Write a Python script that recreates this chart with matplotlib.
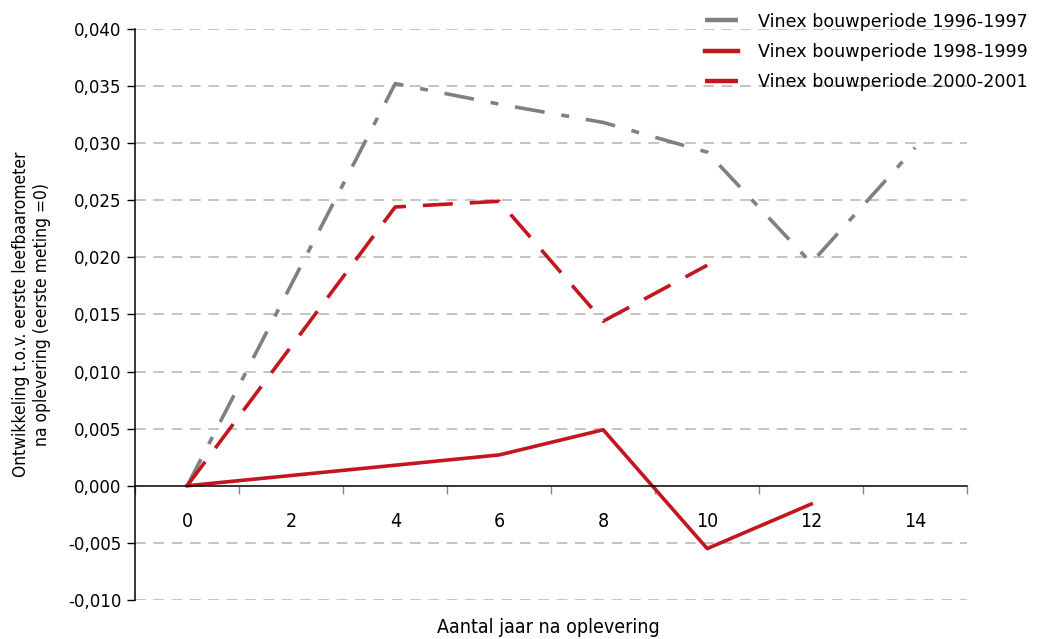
import matplotlib
matplotlib.use("Agg")
import matplotlib.pyplot as plt
from matplotlib import font_manager
from matplotlib.ticker import FuncFormatter, FixedLocator

# data
x_9697 = [0, 4, 6, 8, 10, 12, 14]
y_9697 = [0.0, 0.0352, 0.0334, 0.0318, 0.0292, 0.0195, 0.0296]

x_9899 = [0, 4, 6, 8, 10, 12]
y_9899 = [0.0, 0.0018, 0.0027, 0.0049, -0.0055, -0.0016]

x_0001 = [0, 4, 6, 8, 10]
y_0001 = [0.0, 0.0244, 0.0249, 0.0144, 0.0193]

labels = ["Vinex bouwperiode 1996-1997", "Vinex bouwperiode 1998-1999",
          "Vinex bouwperiode 2000-2001"]
x_labels = [0, 2, 4, 6, 8, 10, 12, 14]

grey = "#808080"
red = "#C3161F"

# condensed face for axis titles and x labels, if there is one
cond = None
for f in font_manager.fontManager.ttflist:
    if f.name == "DejaVu Sans" and "ondensed" in f.fname and "Bold" not in f.fname \
            and "Oblique" not in f.fname:
        cond = f.fname
        break
narrow = font_manager.FontProperties(fname=cond) if cond else \
    font_manager.FontProperties(family="DejaVu Sans")

fig = plt.figure(figsize=(10.4, 6.39), dpi=100)
ax = fig.add_axes([0.130, 0.061, 0.800, 0.894])

ax.plot(x_9697, y_9697, color=grey, lw=2.6, dashes=(8.3, 4.7, 2.2, 4.7),
        label=labels[0], dash_capstyle="butt")
ax.plot(x_9899, y_9899, color=red, lw=2.6, label=labels[1])
ax.plot(x_0001, y_0001, color=red, lw=2.6, dashes=(8.3, 4.7),
        label=labels[2], dash_capstyle="butt")

ax.set_xlim(-1, 15)
ax.set_ylim(-0.010, 0.040)

# y axis
yt = [i * 0.005 for i in range(-2, 9)]
ax.set_yticks(yt)
ax.yaxis.set_major_formatter(FuncFormatter(lambda v, p: f"{v:.3f}".replace(".", ",")))
ax.tick_params(axis="y", direction="out", length=6, width=1, labelsize=12,
               colors="black", pad=4)
for v in yt:
    if abs(v) > 1e-9:
        ax.axhline(v, color="#B4B4B4", lw=1.1, dashes=(7, 5), zorder=0)

# x axis at y = 0, tick marks between the category labels
ax.spines["bottom"].set_position(("data", 0))
ax.spines["top"].set_visible(False)
ax.spines["right"].set_visible(False)
ax.xaxis.set_major_locator(FixedLocator(list(range(-1, 16, 2))))
ax.xaxis.set_major_formatter(FuncFormatter(lambda v, p: ""))
ax.xaxis.set_minor_locator(FixedLocator(x_labels))
ax.set_xticklabels([str(v) for v in x_labels], minor=True)
for t in ax.get_xticklabels(minor=True):
    t.set_fontproperties(narrow)
    t.set_fontsize(14)
ax.tick_params(axis="x", which="major", direction="out", length=6, width=1, colors="#888888")
ax.tick_params(axis="x", which="minor", length=0, pad=19)
for s in ["left", "bottom"]:
    ax.spines[s].set_linewidth(1.1)

ax.set_ylabel("Ontwikkeling t.o.v. eerste leefbaarometer\nna oplevering (eerste meting =0)",
              fontproperties=narrow, fontsize=12.5, labelpad=12)
fig.text(0.527, 0.018, "Aantal jaar na oplevering", fontproperties=narrow, fontsize=14,
         ha="center", va="center")

leg = fig.legend(loc="upper right", bbox_to_anchor=(1.003, 1.005), frameon=False,
                 fontsize=12.6, handlelength=1.9, handletextpad=1.1, labelspacing=0.7)
for h in leg.get_lines():
    h.set_linewidth(3.2)

fig.savefig("out.png", dpi=100)
